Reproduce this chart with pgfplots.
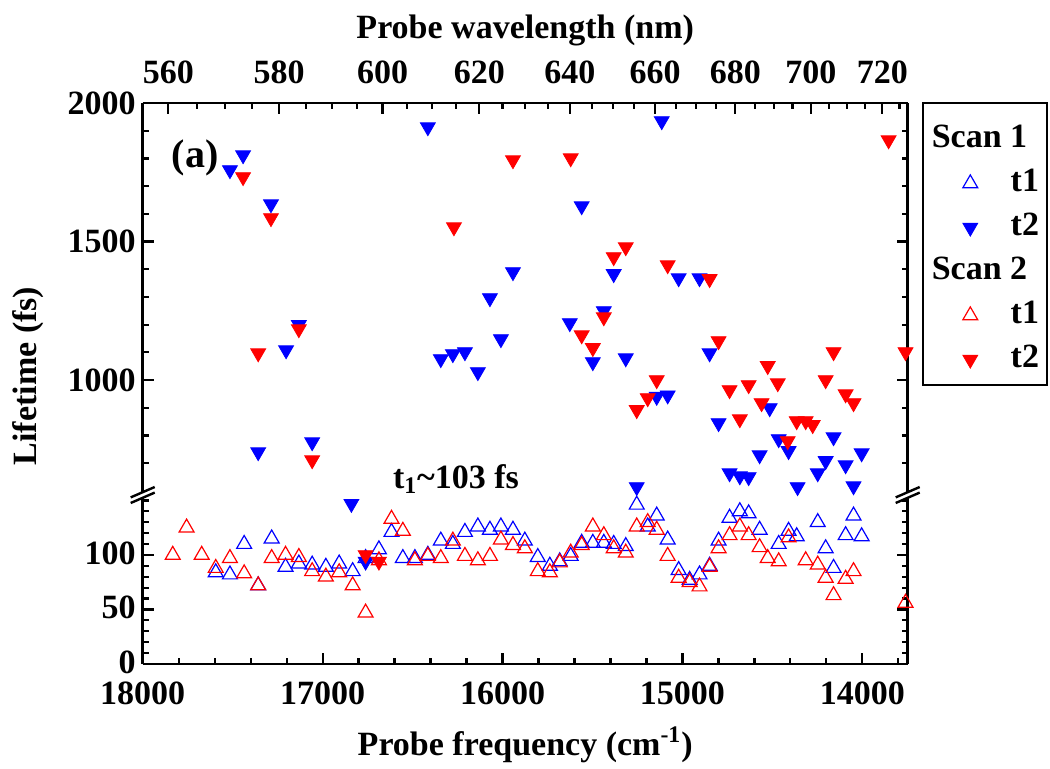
\documentclass[border=0pt]{standalone}
\usepackage{fontspec}
\setmainfont{Liberation Serif}
\usepackage{pgfplots}
\pgfplotsset{compat=1.18}
\definecolor{cblue}{RGB}{0,0,255}
\definecolor{cred}{RGB}{255,0,0}
\newcommand{\lbl}{\fontsize{17}{19}\selectfont\bfseries}
\pgfplotsset{
  brk/.style={
    scale only axis, width=382.5pt, x dir=reverse, xmin=13748, xmax=18000,
    tick align=inside, major tick length=5.5pt, minor tick length=3pt,
    tick style={line width=1.1pt, black},
    axis line style={line width=1.2pt},
    tick label style={font=\lbl},
    scaled x ticks=false, scaled y ticks=false,
    /pgf/number format/assume math mode=true,
    /pgf/number format/1000 sep={},
  },
  s1t1/.style={only marks, color=cblue, mark=triangle, mark size=4.3pt, mark options={solid, draw=cblue, fill=none, line width=0.6pt}},
  s2t1/.style={only marks, color=cred, mark=triangle, mark size=4.3pt, mark options={solid, draw=cred, fill=none, line width=0.6pt}},
  s1t2/.style={only marks, color=cblue, mark=triangle*, mark size=4.3pt, mark options={solid, rotate=180, draw=cblue, fill=cblue}},
  s2t2/.style={only marks, color=cred, mark=triangle*, mark size=4.3pt, mark options={solid, rotate=180, draw=cred, fill=cred}},
}
\begin{document}
\begin{tikzpicture}
% ---------- upper segment ----------
\begin{axis}[brk, at={(71.35pt,-51.5pt)}, anchor=north west, height=196pt,
  ymin=585, ymax=2000,
  axis x line*=top, axis y line*=box,
  xtick={17857.14,17241.38,16666.67,16129.03,15625,15151.52,14705.88,14285.71,13888.89},
  xticklabels={560,580,600,620,640,660,680,700,720},
  xticklabel style={yshift=6pt},
  minor xtick={17699.12,17543.86,17391.30,17094.02,16949.15,16806.72,16528.93,16393.44,16260.16,16000.00,15873.02,15748.03,15503.88,15384.62,15267.18,15037.59,14925.37,14814.81,14598.54,14492.75,14388.49,14184.40,14084.51,13986.01,13793.10},
  ytick={1000,1500,2000}, minor ytick={700,800,...,1900},
  ytick pos=both, yticklabel pos=left,
  legend style={draw=none, fill=none, at={(1.059,0.964)}, anchor=north west,
    legend cell align=left, font=\lbl, row sep=0pt, inner sep=0pt,
    nodes={text height=11.5pt, text depth=3.5pt, inner sep=3.5pt},
    /tikz/every odd column/.append style={column sep=13pt}},
]
\addlegendimage{empty legend}
\addlegendentry{\makebox[0pt][l]{\hspace{-39.5pt}Scan 1}}
\addlegendimage{s1t1}
\addlegendentry{t1}
\addlegendimage{s1t2}
\addlegendentry{t2}
\addlegendimage{empty legend}
\addlegendentry{\makebox[0pt][l]{\hspace{-39.5pt}Scan 2}}
\addlegendimage{s2t1}
\addlegendentry{t1}
\addlegendimage{s2t2}
\addlegendentry{t2}

\addplot[s1t2, forget plot] table {
x y
17515 1758
17442 1812
17287 1635
17358 740
17203 1108
17132 1199
17058 776
16415 1913
16343 1076
16276 1094
16209 1101
16137 1029
16070 1296
16009 1148
15942 1390
15626 1206
15560 1628
15498 1065
15437 1249
15382 1383
15315 1079
15254 614
15143 940
15082 945
15115 1935
15021 1368
14905 1368
14849 1097
14799 845
14738 664
14681 653
14632 650
14571 729
14515 899
14465 787
14410 744
14360 614
14248 664
14204 708
14160 794
14093 693
14049 617
14004 736
};
\addplot[s2t2, forget plot] table {
x y
17442 1733
17287 1585
17358 1097
17132 1184
17058 711
16270 1552
15942 1794
15621 1801
15560 1162
15498 1116
15437 1227
15382 1444
15315 1480
15254 892
15193 935
15143 1000
15082 1415
14849 1365
14799 1141
14738 964
14681 859
14632 982
14560 917
14526 1051
14470 989
14415 780
14365 852
14315 852
14276 838
14204 1000
14160 1101
14093 949
14049 917
13854 1866
13760 1101
};
\end{axis}
% ---------- lower segment ----------
\begin{axis}[brk, at={(71.35pt,-247.5pt)}, anchor=north west, height=84.5pt,
  ymin=0, ymax=155,
  axis x line*=bottom, axis y line*=box,
  xtick={14000,15000,16000,17000,18000},
  minor xtick={13800,14000,...,18000},
  ytick={0,50,100}, minor ytick={10,20,...,150},
  ytick pos=both, yticklabel pos=left,
  xticklabel style={inner ysep=0.5pt, yshift=-8.2pt},
  yticklabel style={inner ysep=0.5pt, yshift=1pt},
]
\addplot[s1t1] table {
x y
17594 84
17515 82
17436 110
17358 72
17283 115
17206 89
17132 92
17058 91
16982 89
16908 92
16833 85
16761 97
16687 105
16617 121
16554 97
16487 97
16415 100
16343 113
16276 110
16209 121
16137 126
16070 123
16009 126
15942 123
15876 113
15804 98
15737 90
15682 94
15621 99
15560 111
15498 111
15437 111
15382 110
15315 108
15254 146
15193 126
15143 136
15082 114
15021 86
14960 77
14905 82
14849 90
14799 113
14738 134
14681 140
14632 138
14571 123
14465 110
14410 122
14365 117
14248 130
14204 106
14160 88
14093 118
14049 136
14004 117
};
\addplot[s1t2] table {
x y
16840 147
16761 94
};
\addplot[s2t1] table {
x y
17833 100
17756 125
17672 100
17594 88
17515 97
17436 83
17358 72
17283 97
17206 100
17132 98
17058 85
16982 80
16908 84
16833 72
16761 47
16687 95
16617 133
16554 122
16487 95
16415 99
16343 97
16276 113
16209 99
16137 95
16070 99
16009 114
15942 109
15876 106
15804 85
15737 84
15682 93
15621 102
15560 109
15498 126
15437 118
15382 106
15315 102
15254 126
15193 130
15143 123
15082 99
15021 79
14960 75
14905 71
14849 89
14799 106
14738 118
14681 126
14632 118
14571 107
14526 97
14465 94
14410 116
14315 95
14248 91
14204 79
14160 63
14093 78
14049 85
13760 56
};
\addplot[s2t2] table {
x y
16761 100
16687 94
};
\end{axis}
% ---------- axis breaks ----------
\foreach \bx in {71.35pt,453.85pt}{
\begin{scope}[shift={(\bx,-247.5pt)}]
  \fill[white] (-6pt,-4pt) -- (6pt,1.2pt) -- (6pt,4pt) -- (-6pt,-1.2pt) -- cycle;
  \draw[line width=1.2pt] (-6pt,-4pt) -- (6pt,1.2pt);
  \draw[line width=1.2pt] (-6pt,-1.2pt) -- (6pt,4pt);
\end{scope}}
% ---------- legend frame ----------
\draw[line width=0.6pt] (461.5pt,-51.5pt) rectangle (523.5pt,-192.5pt);
% ---------- texts ----------
\node[font=\lbl] at (262.6pt,-15pt) {Probe wavelength (nm)};
\node[font=\lbl] at (262.6pt,-372.5pt) {Probe frequency (cm\textsuperscript{-1})};
\node[font=\lbl, rotate=90] at (14pt,-188pt) {Lifetime (fs)};
\node[font=\fontsize{20}{24}\selectfont\bfseries] at (97.5pt,-79pt) {(a)};
\node[font=\lbl] at (228pt,-239.5pt) {t\textsubscript{1}\textasciitilde 103 fs};
\pgfresetboundingbox
\path[use as bounding box] (0pt,0pt) rectangle (525pt,-384.5pt);
\end{tikzpicture}
\end{document}
